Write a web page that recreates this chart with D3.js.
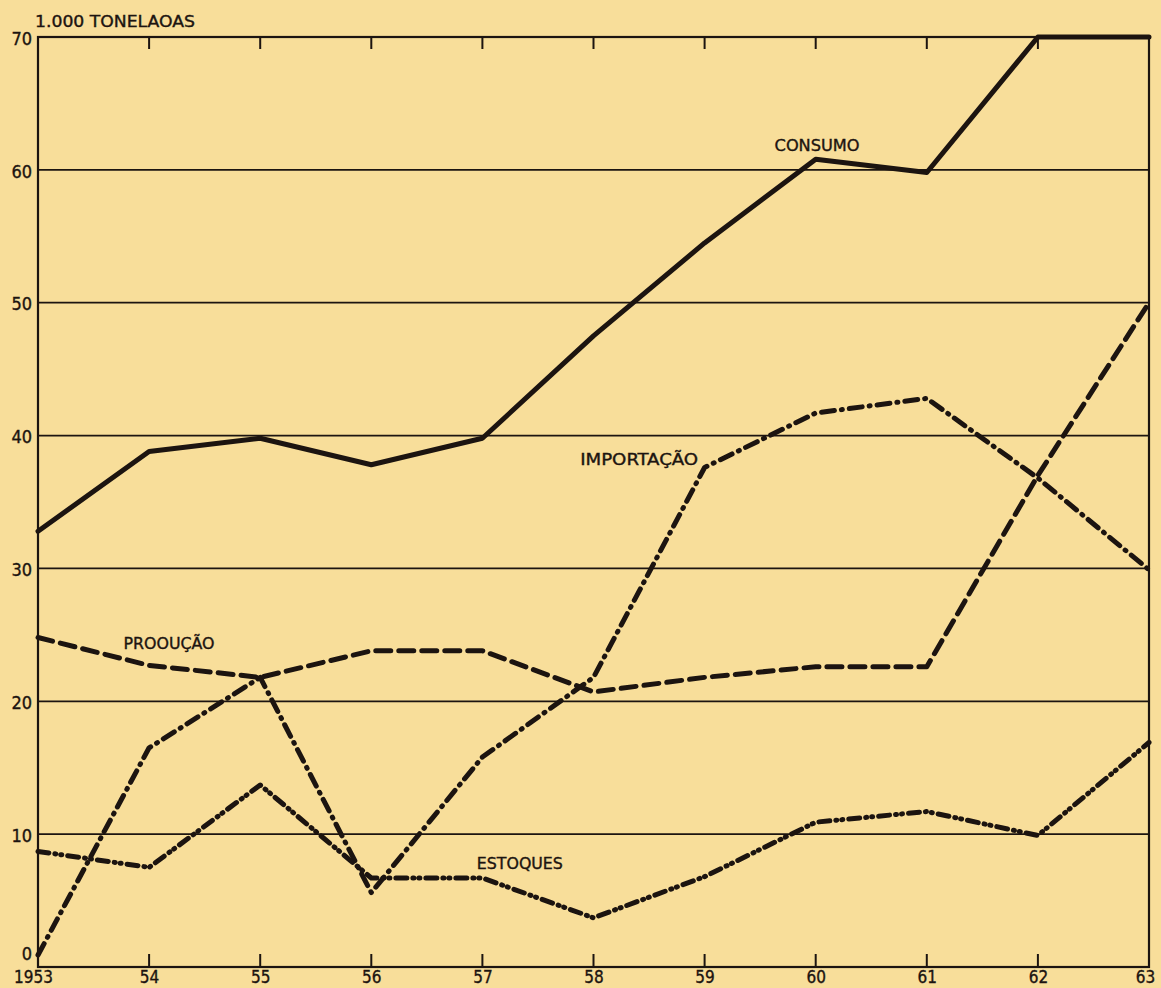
<!DOCTYPE html>
<html><head><meta charset="utf-8">
<script src="https://cdn.jsdelivr.net/npm/d3@7"></script>
<style>
html,body{margin:0;padding:0;background:#f8de9a;}
svg{display:block;}
text{font-family:"DejaVu Sans Condensed","DejaVu Sans",sans-serif;fill:#1c1410;stroke:#1c1410;stroke-width:0.35px;}
</style></head><body>
<svg id="c" width="1161" height="988"></svg>
<script>
const years = [1953,1954,1955,1956,1957,1958,1959,1960,1961,1962,1963];
const yearLabels = ["1953","54","55","56","57","58","59","60","61","62","63"];
const yTicks = [0,10,20,30,40,50,60,70];
const consumo    = [32.8,38.8,39.8,37.8,39.8,47.5,54.5,60.8,59.8,70,70];
const importacao = [0.9,16.5,21.8,5.6,15.8,21.8,37.6,41.7,42.8,36.8,29.9];
const producao   = [24.8,22.7,21.8,23.8,23.8,20.7,21.8,22.6,22.6,37,50];
const estoques   = [8.7,7.5,13.7,6.7,6.7,3.7,6.8,10.9,11.7,9.9,16.9];
const seriesNames = ["CONSUMO","IMPORTAÇÃO","PROOUÇÃO","ESTOQUES"];
// label anchors in data coordinates (year, value)
const labelYears  = [1959.63,1957.88,1953.77,1956.95];
const labelValues = [61.4,37.8,23.9,7.4];
const titleText = "1.000 TONELAOAS";

const svg = d3.select("#c");
const x = d3.scaleLinear().domain([1953,1963]).range([38,1149]);
const y = d3.scaleLinear().domain([0,70]).range([967,37]);
const ink = "#1c1410";

svg.append("rect").attr("width",1161).attr("height",988).attr("fill","#f8de9a");

// gridlines
svg.append("g").selectAll("line").data(yTicks.filter(v=>v>0&&v<70)).join("line")
  .attr("x1",x(1953)).attr("x2",x(1963)).attr("y1",d=>y(d)).attr("y2",d=>y(d))
  .attr("stroke",ink).attr("stroke-width",1.7);

// frame
svg.append("rect").attr("x",x(1953)).attr("y",y(70)).attr("width",x(1963)-x(1953)).attr("height",y(0)-y(70))
  .attr("fill","none").attr("stroke",ink).attr("stroke-width",2.2);

// bottom axis labels
const xAxisB = d3.axisBottom(x).tickValues(years).tickSize(0).tickPadding(4)
  .tickFormat((d,i)=>yearLabels[i]);
const gb = svg.append("g").attr("transform",`translate(0,${y(0)})`).call(xAxisB);
gb.select(".domain").remove();
gb.selectAll("text").attr("font-size",17).attr("fill",ink).style("font-family","DejaVu Sans Condensed")
  .attr("dx",(d,i)=>i===0?-5:(i===yearLabels.length-1?-4:0));
// inner tick marks
svg.append("g").selectAll("line").data(years.slice(1,-1)).join("line")
  .attr("x1",d=>x(d)).attr("x2",d=>x(d)).attr("y1",y(0)).attr("y2",y(0)-13)
  .attr("stroke",ink).attr("stroke-width",2);
svg.append("g").selectAll("line").data(years.slice(1,-1)).join("line")
  .attr("x1",d=>x(d)).attr("x2",d=>x(d)).attr("y1",y(70)).attr("y2",y(70)+12)
  .attr("stroke",ink).attr("stroke-width",2);

// left axis labels
const yAxis = d3.axisLeft(y).tickValues(yTicks).tickSize(0).tickPadding(6);
const gl = svg.append("g").attr("transform",`translate(${x(1953)},0)`).call(yAxis);
gl.select(".domain").remove();
gl.selectAll("text").attr("font-size",18).attr("fill",ink).style("font-family","DejaVu Sans Condensed")
  .attr("dy",d=>d===0?"-0.42em":"0.4em");

// title
svg.append("text").attr("x",35).attr("y",27).attr("font-size",16).text(titleText)
  .attr("textLength",160).attr("lengthAdjust","spacingAndGlyphs");

// lines
const line = d3.line().x((d,i)=>x(years[i])).y(d=>y(d));
const series = [
  {v:consumo, dash:null},
  {v:importacao, dash:"13 7 1 7"},
  {v:producao, dash:"15 8"},
  {v:estoques, dash:"11 6 1 5 1 6"}
];
svg.append("g").selectAll("path").data(series).join("path")
  .attr("d",d=>line(d.v)).attr("fill","none").attr("stroke",ink)
  .attr("stroke-width",5).attr("stroke-linecap","round").attr("stroke-linejoin","round")
  .attr("stroke-dasharray",d=>d.dash);

// series labels
const labelWidths = [85,118,91,86];
svg.append("g").selectAll("text").data(seriesNames).join("text")
  .attr("x",(d,i)=>x(labelYears[i])).attr("y",(d,i)=>y(labelValues[i]))
  .attr("font-size",16).text(d=>d)
  .attr("textLength",(d,i)=>labelWidths[i]).attr("lengthAdjust","spacingAndGlyphs");
</script>
</body></html>
